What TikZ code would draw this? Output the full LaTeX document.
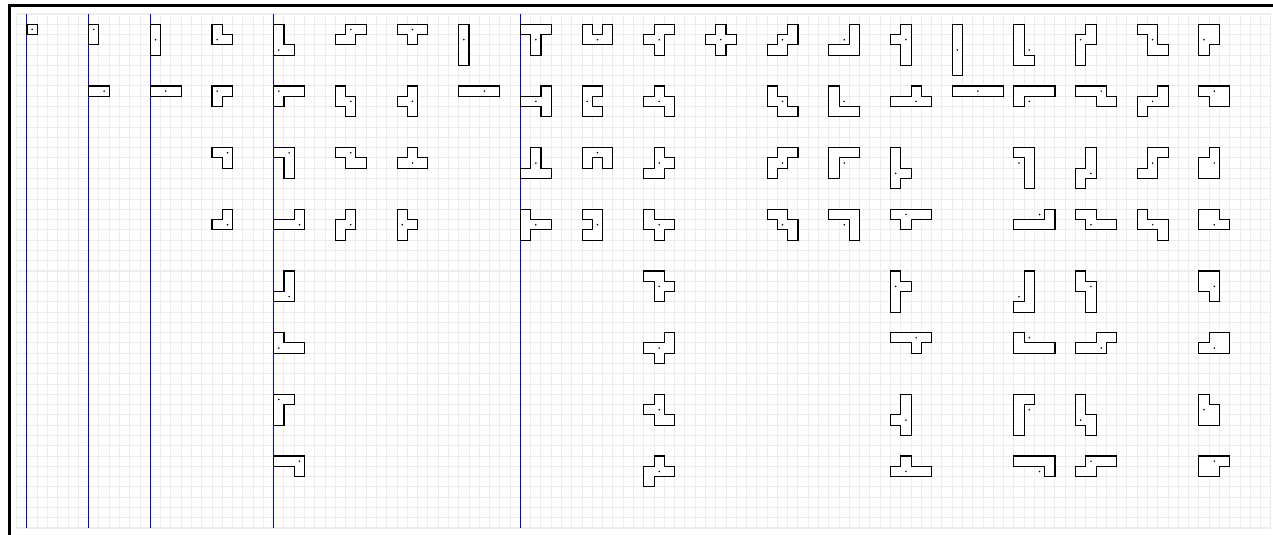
\documentclass[tikz,border=0pt]{standalone}
\usetikzlibrary{calc}
\tikzset{
  gridline/.style={draw=black!7, line width=0.7pt},
  blueline/.style={draw=blue, line width=0.7pt},
  framebar/.style={draw=black, line width=1.8pt},
  celledge/.style={draw=black, line width=0.75pt, line cap=rect},
  cellfill/.style={fill=white},
  pdot/.style={fill=black}
}
\makeatletter
\newcommand\pmtest[2]{\edef\pm@x{\noexpand\in@{,#1/#2,}{\pm@list}}\pm@x}
\newcommand\pmino[5]{%
  \edef\pm@list{,#3,}%
  \foreach \a/\b in {#3} {\fill[cellfill] (#1+\a,#2+\b) rectangle +(1,1);}
  \foreach \a/\b in {#3} {%
    \pgfmathtruncatemacro\pmL{\a-1}%
    \pgfmathtruncatemacro\pmR{\a+1}%
    \pgfmathtruncatemacro\pmU{\b-1}%
    \pgfmathtruncatemacro\pmD{\b+1}%
    \pmtest{\pmL}{\b}\ifin@\else\draw[celledge] (#1+\a,#2+\b) -- ++(0,1);\fi
    \pmtest{\pmR}{\b}\ifin@\else\draw[celledge] (#1+\a+1,#2+\b) -- ++(0,1);\fi
    \pmtest{\a}{\pmU}\ifin@\else\draw[celledge] (#1+\a,#2+\b) -- ++(1,0);\fi
    \pmtest{\a}{\pmD}\ifin@\else\draw[celledge] (#1+\a,#2+\b+1) -- ++(1,0);\fi
  }%
  \fill[pdot] (#1+#4+0.5,#2+#5+0.5) circle[radius=0.6pt];
}
\makeatother
\begin{document}
\begin{tikzpicture}[x=2.5mm,y=-2.5mm]
\useasboundingbox (-1.6245,-1.3619) rectangle (122.21,50.68);
% frame
\draw[framebar] (-0.72,50.9) -- (-0.72,-0.84) -- (122.4,-0.84);
% grid
\foreach \i in {0,...,122} {\draw[gridline] (\i,0) -- (\i,50);}
\foreach \j in {0,...,50} {\draw[gridline] (0,\j) -- (122,\j);}
% blue separators
\foreach \i in {1,7,13,25,49} {\draw[blueline] (\i,0) -- (\i,50);}
% n=1
\pmino{1}{1}{0/0}{0}{0}
% n=2
\pmino{7}{1}{0/0,0/1}{0}{0}
\pmino{7}{7}{0/0,1/0}{1}{0}
% n=3 I
\pmino{13}{1}{0/0,0/1,0/2}{0}{1}
\pmino{13}{7}{0/0,1/0,2/0}{1}{0}
% n=3 L
\pmino{19}{1}{0/0,0/1,1/1}{0}{1}
\pmino{19}{7}{0/0,1/0,0/1}{0}{0}
\pmino{19}{13}{0/0,1/0,1/1}{1}{0}
\pmino{19}{19}{1/0,0/1,1/1}{1}{1}
% n=4 L
\pmino{25}{1}{0/0,0/1,0/2,1/2}{0}{2}
\pmino{25}{7}{0/0,1/0,2/0,0/1}{0}{0}
\pmino{25}{13}{0/0,1/0,1/1,1/2}{1}{0}
\pmino{25}{19}{2/0,0/1,1/1,2/1}{2}{1}
\pmino{25}{25}{1/0,1/1,1/2,0/2}{1}{2}
\pmino{25}{31}{0/0,0/1,1/1,2/1}{0}{1}
\pmino{25}{37}{0/0,1/0,0/1,0/2}{0}{0}
\pmino{25}{43}{0/0,1/0,2/0,2/1}{2}{0}
% n=4 S
\pmino{31}{1}{1/0,2/0,0/1,1/1}{1}{0}
\pmino{31}{7}{0/0,0/1,1/1,1/2}{1}{1}
\pmino{31}{13}{0/0,1/0,1/1,2/1}{1}{0}
\pmino{31}{19}{1/0,1/1,0/1,0/2}{1}{1}
% n=4 T
\pmino{37}{1}{0/0,1/0,2/0,1/1}{1}{0}
\pmino{37}{7}{1/0,1/1,1/2,0/1}{1}{1}
\pmino{37}{13}{1/0,0/1,1/1,2/1}{1}{1}
\pmino{37}{19}{0/0,0/1,0/2,1/1}{0}{1}
% n=4 I
\pmino{43}{1}{0/0,0/1,0/2,0/3}{0}{1}
\pmino{43}{7}{0/0,1/0,2/0,3/0}{2}{0}
% n=5 T
\pmino{49}{1}{0/0,1/0,2/0,1/1,1/2}{1}{1}
\pmino{49}{7}{2/0,2/1,2/2,0/1,1/1}{1}{1}
\pmino{49}{13}{1/0,1/1,0/2,1/2,2/2}{1}{1}
\pmino{49}{19}{0/0,0/1,0/2,1/1,2/1}{1}{1}
% U
\pmino{55}{1}{0/0,2/0,0/1,1/1,2/1}{1}{1}
\pmino{55}{7}{0/0,1/0,0/1,0/2,1/2}{0}{1}
\pmino{55}{13}{0/0,1/0,2/0,0/1,2/1}{1}{0}
\pmino{55}{19}{0/0,1/0,1/1,1/2,0/2}{1}{1}
% F
\pmino{61}{1}{1/0,2/0,0/1,1/1,1/2}{1}{1}
\pmino{61}{7}{1/0,0/1,1/1,2/1,2/2}{1}{1}
\pmino{61}{13}{1/0,1/1,2/1,0/2,1/2}{1}{1}
\pmino{61}{19}{0/0,0/1,1/1,2/1,1/2}{1}{1}
\pmino{61}{25}{0/0,1/0,1/1,2/1,1/2}{1}{1}
\pmino{61}{31}{2/0,0/1,1/1,2/1,1/2}{1}{1}
\pmino{61}{37}{1/0,0/1,1/1,1/2,2/2}{1}{1}
\pmino{61}{43}{1/0,0/1,1/1,2/1,0/2}{1}{1}
% X
\pmino{67}{1}{1/0,0/1,1/1,2/1,1/2}{1}{1}
% W
\pmino{73}{1}{2/0,1/1,2/1,0/2,1/2}{1}{1}
\pmino{73}{7}{0/0,0/1,1/1,1/2,2/2}{1}{1}
\pmino{73}{13}{1/0,2/0,0/1,1/1,0/2}{1}{1}
\pmino{73}{19}{0/0,1/0,1/1,2/1,2/2}{1}{1}
% V
\pmino{79}{1}{2/0,2/1,0/2,1/2,2/2}{1}{1}
\pmino{79}{7}{0/0,0/1,0/2,1/2,2/2}{1}{1}
\pmino{79}{13}{0/0,1/0,2/0,0/1,0/2}{1}{1}
\pmino{79}{19}{0/0,1/0,2/0,2/1,2/2}{1}{1}
% Y
\pmino{85}{1}{1/0,1/1,1/2,1/3,0/1}{1}{1}
\pmino{85}{7}{2/0,0/1,1/1,2/1,3/1}{2}{1}
\pmino{85}{13}{0/0,0/1,0/2,0/3,1/2}{0}{2}
\pmino{85}{19}{0/0,1/0,2/0,3/0,1/1}{1}{0}
\pmino{85}{25}{0/0,0/1,0/2,0/3,1/1}{0}{1}
\pmino{85}{31}{0/0,1/0,2/0,3/0,2/1}{2}{0}
\pmino{85}{37}{1/0,1/1,1/2,1/3,0/2}{1}{2}
\pmino{85}{43}{1/0,0/1,1/1,2/1,3/1}{1}{1}
% I5
\pmino{91}{1}{0/0,0/1,0/2,0/3,0/4}{0}{2}
\pmino{91}{7}{0/0,1/0,2/0,3/0,4/0}{2}{0}
% L5
\pmino{97}{1}{0/0,0/1,0/2,0/3,1/3}{1}{2}
\pmino{97}{7}{0/0,1/0,2/0,3/0,0/1}{1}{1}
\pmino{97}{13}{0/0,1/0,1/1,1/2,1/3}{0}{1}
\pmino{97}{19}{3/0,0/1,1/1,2/1,3/1}{2}{0}
\pmino{97}{25}{1/0,1/1,1/2,1/3,0/3}{0}{2}
\pmino{97}{31}{0/0,0/1,1/1,2/1,3/1}{1}{0}
\pmino{97}{37}{0/0,1/0,0/1,0/2,0/3}{1}{1}
\pmino{97}{43}{0/0,1/0,2/0,3/0,3/1}{2}{1}
% N
\pmino{103}{1}{1/0,1/1,0/1,0/2,0/3}{0}{1}
\pmino{103}{7}{0/0,1/0,2/0,2/1,3/1}{2}{0}
\pmino{103}{13}{1/0,1/1,1/2,0/2,0/3}{1}{2}
\pmino{103}{19}{0/0,1/0,1/1,2/1,3/1}{1}{1}
\pmino{103}{25}{0/0,0/1,1/1,1/2,1/3}{1}{1}
\pmino{103}{31}{2/0,3/0,0/1,1/1,2/1}{2}{1}
\pmino{103}{37}{0/0,0/1,0/2,1/2,1/3}{0}{2}
\pmino{103}{43}{1/0,2/0,3/0,0/1,1/1}{1}{0}
% Z
\pmino{109}{1}{0/0,1/0,1/1,1/2,2/2}{1}{1}
\pmino{109}{7}{2/0,0/1,1/1,2/1,0/2}{1}{1}
\pmino{109}{13}{1/0,2/0,1/1,0/2,1/2}{1}{1}
\pmino{109}{19}{0/0,0/1,1/1,2/1,2/2}{1}{1}
% P
\pmino{115}{1}{0/0,1/0,0/1,1/1,0/2}{0}{1}
\pmino{115}{7}{0/0,1/0,2/0,1/1,2/1}{1}{0}
\pmino{115}{13}{1/0,0/1,1/1,0/2,1/2}{1}{1}
\pmino{115}{19}{0/0,1/0,0/1,1/1,2/1}{1}{1}
\pmino{115}{25}{0/0,1/0,0/1,1/1,1/2}{1}{1}
\pmino{115}{31}{1/0,2/0,0/1,1/1,2/1}{1}{1}
\pmino{115}{37}{0/0,0/1,1/1,0/2,1/2}{0}{1}
\pmino{115}{43}{0/0,1/0,2/0,0/1,1/1}{1}{0}
\end{tikzpicture}
\end{document}
